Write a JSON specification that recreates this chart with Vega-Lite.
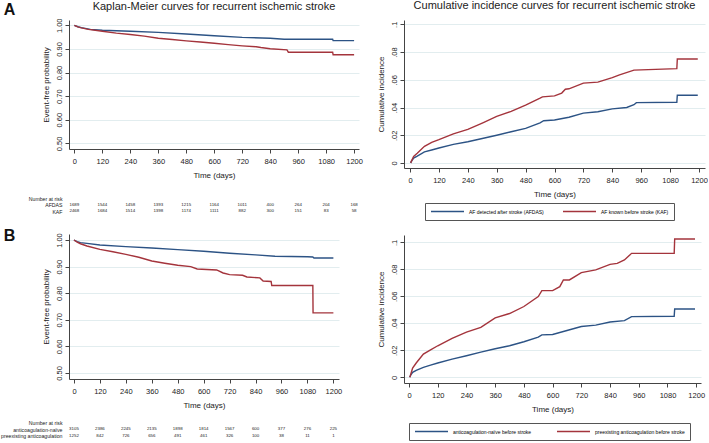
{
  "$schema": "https://vega.github.io/schema/vega-lite/v6.json",
  "padding": 0,
  "background": "white",
  "config": {
    "font": "Liberation Sans",
    "view": {"stroke": null},
    "title": {"fontSize": 11, "fontWeight": "normal", "color": "#222", "frame": "group"},
    "axis": {"domainColor": "#444", "tickColor": "#444", "labelFontSize": 7.5, "labelColor": "#222", "titleFontSize": 8, "titleFontWeight": "normal", "titleColor": "#222", "tickSize": 4, "gridColor": "#e2edef", "labelPadding": 2, "labelOverlap": false, "labelFlush": false, "tickCount": 30},
    "axisX": {"grid": false, "labelPadding": 4, "titlePadding": 7, "format": "d"},
    "axisY": {"grid": true, "labelAngle": -90, "labelAlign": "center", "labelBaseline": "bottom", "titlePadding": 5, "labelOverlap": false}
  },
  "datasets": {
    "km_a": [
      {"t": 0, "v": 1.0, "g": "AFDAS"}, {"t": 15, "v": 0.994, "g": "AFDAS"}, {"t": 30, "v": 0.99, "g": "AFDAS"}, {"t": 69, "v": 0.983, "g": "AFDAS"}, {"t": 120, "v": 0.979, "g": "AFDAS"}, {"t": 240, "v": 0.975, "g": "AFDAS"}, {"t": 360, "v": 0.97, "g": "AFDAS"}, {"t": 480, "v": 0.963, "g": "AFDAS"}, {"t": 600, "v": 0.956, "g": "AFDAS"}, {"t": 720, "v": 0.949, "g": "AFDAS"}, {"t": 840, "v": 0.945, "g": "AFDAS"}, {"t": 900, "v": 0.941, "g": "AFDAS"}, {"t": 1108, "v": 0.941, "g": "AFDAS"}, {"t": 1110, "v": 0.935, "g": "AFDAS"}, {"t": 1200, "v": 0.935, "g": "AFDAS"},
      {"t": 0, "v": 1.0, "g": "KAF"}, {"t": 15, "v": 0.993, "g": "KAF"}, {"t": 30, "v": 0.989, "g": "KAF"}, {"t": 60, "v": 0.983, "g": "KAF"}, {"t": 120, "v": 0.975, "g": "KAF"}, {"t": 180, "v": 0.967, "g": "KAF"}, {"t": 240, "v": 0.961, "g": "KAF"}, {"t": 300, "v": 0.954, "g": "KAF"}, {"t": 360, "v": 0.945, "g": "KAF"}, {"t": 420, "v": 0.94, "g": "KAF"}, {"t": 480, "v": 0.934, "g": "KAF"}, {"t": 540, "v": 0.929, "g": "KAF"}, {"t": 600, "v": 0.924, "g": "KAF"}, {"t": 660, "v": 0.918, "g": "KAF"}, {"t": 720, "v": 0.913, "g": "KAF"}, {"t": 780, "v": 0.909, "g": "KAF"}, {"t": 800, "v": 0.906, "g": "KAF"}, {"t": 840, "v": 0.901, "g": "KAF"}, {"t": 912, "v": 0.896, "g": "KAF"}, {"t": 918, "v": 0.886, "g": "KAF"}, {"t": 1108, "v": 0.886, "g": "KAF"}, {"t": 1110, "v": 0.875, "g": "KAF"}, {"t": 1200, "v": 0.875, "g": "KAF"}
    ],
    "km_b": [
      {"t": 0, "v": 1.0, "g": "naive"}, {"t": 15, "v": 0.994, "g": "naive"}, {"t": 30, "v": 0.99, "g": "naive"}, {"t": 60, "v": 0.9875, "g": "naive"}, {"t": 120, "v": 0.981, "g": "naive"}, {"t": 240, "v": 0.975, "g": "naive"}, {"t": 360, "v": 0.97, "g": "naive"}, {"t": 480, "v": 0.964, "g": "naive"}, {"t": 600, "v": 0.9575, "g": "naive"}, {"t": 720, "v": 0.95, "g": "naive"}, {"t": 840, "v": 0.944, "g": "naive"}, {"t": 930, "v": 0.939, "g": "naive"}, {"t": 1080, "v": 0.937, "g": "naive"}, {"t": 1105, "v": 0.936, "g": "naive"}, {"t": 1110, "v": 0.9325, "g": "naive"}, {"t": 1200, "v": 0.9325, "g": "naive"},
      {"t": 0, "v": 1.0, "g": "pre"}, {"t": 15, "v": 0.992, "g": "pre"}, {"t": 30, "v": 0.986, "g": "pre"}, {"t": 60, "v": 0.9775, "g": "pre"}, {"t": 120, "v": 0.965, "g": "pre"}, {"t": 180, "v": 0.956, "g": "pre"}, {"t": 240, "v": 0.946, "g": "pre"}, {"t": 300, "v": 0.935, "g": "pre"}, {"t": 360, "v": 0.921, "g": "pre"}, {"t": 420, "v": 0.9125, "g": "pre"}, {"t": 480, "v": 0.905, "g": "pre"}, {"t": 540, "v": 0.9, "g": "pre"}, {"t": 570, "v": 0.891, "g": "pre"}, {"t": 660, "v": 0.8875, "g": "pre"}, {"t": 690, "v": 0.876, "g": "pre"}, {"t": 720, "v": 0.87, "g": "pre"}, {"t": 780, "v": 0.8675, "g": "pre"}, {"t": 800, "v": 0.861, "g": "pre"}, {"t": 860, "v": 0.8575, "g": "pre"}, {"t": 875, "v": 0.846, "g": "pre"}, {"t": 912, "v": 0.844, "g": "pre"}, {"t": 915, "v": 0.829, "g": "pre"}, {"t": 1105, "v": 0.829, "g": "pre"}, {"t": 1106, "v": 0.726, "g": "pre"}, {"t": 1200, "v": 0.726, "g": "pre"}
    ],
    "ci_a": [
      {"t": 3, "v": 0.0, "g": "AF detected after stroke (AFDAS)"}, {"t": 5, "v": 0.001, "g": "AF detected after stroke (AFDAS)"}, {"t": 15, "v": 0.0036, "g": "AF detected after stroke (AFDAS)"}, {"t": 30, "v": 0.005, "g": "AF detected after stroke (AFDAS)"}, {"t": 60, "v": 0.008, "g": "AF detected after stroke (AFDAS)"}, {"t": 90, "v": 0.0094, "g": "AF detected after stroke (AFDAS)"}, {"t": 120, "v": 0.0108, "g": "AF detected after stroke (AFDAS)"}, {"t": 180, "v": 0.0134, "g": "AF detected after stroke (AFDAS)"}, {"t": 240, "v": 0.0153, "g": "AF detected after stroke (AFDAS)"}, {"t": 300, "v": 0.0177, "g": "AF detected after stroke (AFDAS)"}, {"t": 360, "v": 0.02, "g": "AF detected after stroke (AFDAS)"}, {"t": 420, "v": 0.0225, "g": "AF detected after stroke (AFDAS)"}, {"t": 480, "v": 0.025, "g": "AF detected after stroke (AFDAS)"}, {"t": 540, "v": 0.029, "g": "AF detected after stroke (AFDAS)"}, {"t": 555, "v": 0.0305, "g": "AF detected after stroke (AFDAS)"}, {"t": 600, "v": 0.031, "g": "AF detected after stroke (AFDAS)"}, {"t": 660, "v": 0.033, "g": "AF detected after stroke (AFDAS)"}, {"t": 720, "v": 0.036, "g": "AF detected after stroke (AFDAS)"}, {"t": 780, "v": 0.037, "g": "AF detected after stroke (AFDAS)"}, {"t": 840, "v": 0.039, "g": "AF detected after stroke (AFDAS)"}, {"t": 900, "v": 0.04, "g": "AF detected after stroke (AFDAS)"}, {"t": 930, "v": 0.042, "g": "AF detected after stroke (AFDAS)"}, {"t": 940, "v": 0.0435, "g": "AF detected after stroke (AFDAS)"}, {"t": 1108, "v": 0.0438, "g": "AF detected after stroke (AFDAS)"}, {"t": 1110, "v": 0.0488, "g": "AF detected after stroke (AFDAS)"}, {"t": 1195, "v": 0.0488, "g": "AF detected after stroke (AFDAS)"},
      {"t": 3, "v": 0.0, "g": "AF known before stroke (KAF)"}, {"t": 5, "v": 0.001, "g": "AF known before stroke (KAF)"}, {"t": 15, "v": 0.0048, "g": "AF known before stroke (KAF)"}, {"t": 30, "v": 0.007, "g": "AF known before stroke (KAF)"}, {"t": 60, "v": 0.012, "g": "AF known before stroke (KAF)"}, {"t": 90, "v": 0.0149, "g": "AF known before stroke (KAF)"}, {"t": 120, "v": 0.0168, "g": "AF known before stroke (KAF)"}, {"t": 180, "v": 0.021, "g": "AF known before stroke (KAF)"}, {"t": 240, "v": 0.0242, "g": "AF known before stroke (KAF)"}, {"t": 300, "v": 0.0288, "g": "AF known before stroke (KAF)"}, {"t": 360, "v": 0.0336, "g": "AF known before stroke (KAF)"}, {"t": 420, "v": 0.0372, "g": "AF known before stroke (KAF)"}, {"t": 480, "v": 0.0417, "g": "AF known before stroke (KAF)"}, {"t": 540, "v": 0.0468, "g": "AF known before stroke (KAF)"}, {"t": 550, "v": 0.0477, "g": "AF known before stroke (KAF)"}, {"t": 600, "v": 0.0484, "g": "AF known before stroke (KAF)"}, {"t": 630, "v": 0.0504, "g": "AF known before stroke (KAF)"}, {"t": 645, "v": 0.0532, "g": "AF known before stroke (KAF)"}, {"t": 660, "v": 0.0535, "g": "AF known before stroke (KAF)"}, {"t": 720, "v": 0.0576, "g": "AF known before stroke (KAF)"}, {"t": 780, "v": 0.0583, "g": "AF known before stroke (KAF)"}, {"t": 840, "v": 0.0616, "g": "AF known before stroke (KAF)"}, {"t": 870, "v": 0.0636, "g": "AF known before stroke (KAF)"}, {"t": 930, "v": 0.067, "g": "AF known before stroke (KAF)"}, {"t": 1108, "v": 0.068, "g": "AF known before stroke (KAF)"}, {"t": 1110, "v": 0.075, "g": "AF known before stroke (KAF)"}, {"t": 1195, "v": 0.075, "g": "AF known before stroke (KAF)"}
    ],
    "ci_b": [
      {"t": 3, "v": 0.0, "g": "anticoagulation-naïve before stroke"}, {"t": 5, "v": 0.001, "g": "anticoagulation-naïve before stroke"}, {"t": 15, "v": 0.0037, "g": "anticoagulation-naïve before stroke"}, {"t": 30, "v": 0.0052, "g": "anticoagulation-naïve before stroke"}, {"t": 60, "v": 0.0074, "g": "anticoagulation-naïve before stroke"}, {"t": 90, "v": 0.009, "g": "anticoagulation-naïve before stroke"}, {"t": 120, "v": 0.0106, "g": "anticoagulation-naïve before stroke"}, {"t": 180, "v": 0.0135, "g": "anticoagulation-naïve before stroke"}, {"t": 240, "v": 0.016, "g": "anticoagulation-naïve before stroke"}, {"t": 300, "v": 0.0187, "g": "anticoagulation-naïve before stroke"}, {"t": 360, "v": 0.0212, "g": "anticoagulation-naïve before stroke"}, {"t": 420, "v": 0.0234, "g": "anticoagulation-naïve before stroke"}, {"t": 480, "v": 0.0264, "g": "anticoagulation-naïve before stroke"}, {"t": 540, "v": 0.0298, "g": "anticoagulation-naïve before stroke"}, {"t": 555, "v": 0.0315, "g": "anticoagulation-naïve before stroke"}, {"t": 600, "v": 0.0318, "g": "anticoagulation-naïve before stroke"}, {"t": 660, "v": 0.0347, "g": "anticoagulation-naïve before stroke"}, {"t": 720, "v": 0.0377, "g": "anticoagulation-naïve before stroke"}, {"t": 780, "v": 0.0387, "g": "anticoagulation-naïve before stroke"}, {"t": 840, "v": 0.041, "g": "anticoagulation-naïve before stroke"}, {"t": 900, "v": 0.042, "g": "anticoagulation-naïve before stroke"}, {"t": 930, "v": 0.045, "g": "anticoagulation-naïve before stroke"}, {"t": 1108, "v": 0.0453, "g": "anticoagulation-naïve before stroke"}, {"t": 1110, "v": 0.0507, "g": "anticoagulation-naïve before stroke"}, {"t": 1195, "v": 0.0507, "g": "anticoagulation-naïve before stroke"},
      {"t": 3, "v": 0.0, "g": "preexisting anticoagulation before stroke"}, {"t": 5, "v": 0.001, "g": "preexisting anticoagulation before stroke"}, {"t": 15, "v": 0.0069, "g": "preexisting anticoagulation before stroke"}, {"t": 30, "v": 0.0106, "g": "preexisting anticoagulation before stroke"}, {"t": 60, "v": 0.0172, "g": "preexisting anticoagulation before stroke"}, {"t": 90, "v": 0.0204, "g": "preexisting anticoagulation before stroke"}, {"t": 120, "v": 0.0234, "g": "preexisting anticoagulation before stroke"}, {"t": 180, "v": 0.0288, "g": "preexisting anticoagulation before stroke"}, {"t": 240, "v": 0.0335, "g": "preexisting anticoagulation before stroke"}, {"t": 300, "v": 0.037, "g": "preexisting anticoagulation before stroke"}, {"t": 360, "v": 0.0441, "g": "preexisting anticoagulation before stroke"}, {"t": 420, "v": 0.0473, "g": "preexisting anticoagulation before stroke"}, {"t": 480, "v": 0.0525, "g": "preexisting anticoagulation before stroke"}, {"t": 540, "v": 0.0599, "g": "preexisting anticoagulation before stroke"}, {"t": 555, "v": 0.0643, "g": "preexisting anticoagulation before stroke"}, {"t": 600, "v": 0.0643, "g": "preexisting anticoagulation before stroke"}, {"t": 630, "v": 0.0672, "g": "preexisting anticoagulation before stroke"}, {"t": 645, "v": 0.0722, "g": "preexisting anticoagulation before stroke"}, {"t": 670, "v": 0.0722, "g": "preexisting anticoagulation before stroke"}, {"t": 720, "v": 0.0776, "g": "preexisting anticoagulation before stroke"}, {"t": 780, "v": 0.0796, "g": "preexisting anticoagulation before stroke"}, {"t": 840, "v": 0.0837, "g": "preexisting anticoagulation before stroke"}, {"t": 870, "v": 0.0845, "g": "preexisting anticoagulation before stroke"}, {"t": 900, "v": 0.087, "g": "preexisting anticoagulation before stroke"}, {"t": 930, "v": 0.0919, "g": "preexisting anticoagulation before stroke"}, {"t": 1108, "v": 0.0919, "g": "preexisting anticoagulation before stroke"}, {"t": 1110, "v": 0.1025, "g": "preexisting anticoagulation before stroke"}, {"t": 1195, "v": 0.1025, "g": "preexisting anticoagulation before stroke"}
    ],
    "risk_a": [
      {"t": 0, "g": "AFDAS", "n": "1689"}, {"t": 120, "g": "AFDAS", "n": "1544"}, {"t": 240, "g": "AFDAS", "n": "1458"}, {"t": 360, "g": "AFDAS", "n": "1393"}, {"t": 480, "g": "AFDAS", "n": "1215"}, {"t": 600, "g": "AFDAS", "n": "1164"}, {"t": 720, "g": "AFDAS", "n": "1011"}, {"t": 840, "g": "AFDAS", "n": "400"}, {"t": 960, "g": "AFDAS", "n": "264"}, {"t": 1080, "g": "AFDAS", "n": "204"}, {"t": 1200, "g": "AFDAS", "n": "168"},
      {"t": 0, "g": "KAF", "n": "2468"}, {"t": 120, "g": "KAF", "n": "1684"}, {"t": 240, "g": "KAF", "n": "1514"}, {"t": 360, "g": "KAF", "n": "1398"}, {"t": 480, "g": "KAF", "n": "1174"}, {"t": 600, "g": "KAF", "n": "1111"}, {"t": 720, "g": "KAF", "n": "882"}, {"t": 840, "g": "KAF", "n": "300"}, {"t": 960, "g": "KAF", "n": "151"}, {"t": 1080, "g": "KAF", "n": "83"}, {"t": 1200, "g": "KAF", "n": "58"}
    ],
    "risk_b": [
      {"t": 0, "g": "anticoagulation-naïve", "n": "3105"}, {"t": 120, "g": "anticoagulation-naïve", "n": "2386"}, {"t": 240, "g": "anticoagulation-naïve", "n": "2245"}, {"t": 360, "g": "anticoagulation-naïve", "n": "2135"}, {"t": 480, "g": "anticoagulation-naïve", "n": "1898"}, {"t": 600, "g": "anticoagulation-naïve", "n": "1814"}, {"t": 720, "g": "anticoagulation-naïve", "n": "1567"}, {"t": 840, "g": "anticoagulation-naïve", "n": "600"}, {"t": 960, "g": "anticoagulation-naïve", "n": "377"}, {"t": 1080, "g": "anticoagulation-naïve", "n": "276"}, {"t": 1200, "g": "anticoagulation-naïve", "n": "225"},
      {"t": 0, "g": "preexisting anticoagulation", "n": "1252"}, {"t": 120, "g": "preexisting anticoagulation", "n": "842"}, {"t": 240, "g": "preexisting anticoagulation", "n": "726"}, {"t": 360, "g": "preexisting anticoagulation", "n": "656"}, {"t": 480, "g": "preexisting anticoagulation", "n": "491"}, {"t": 600, "g": "preexisting anticoagulation", "n": "461"}, {"t": 720, "g": "preexisting anticoagulation", "n": "326"}, {"t": 840, "g": "preexisting anticoagulation", "n": "100"}, {"t": 960, "g": "preexisting anticoagulation", "n": "38"}, {"t": 1080, "g": "preexisting anticoagulation", "n": "11"}, {"t": 1200, "g": "preexisting anticoagulation", "n": "1"}
    ]
  },
  "resolve": {"scale": {"x": "independent", "y": "independent", "color": "independent"}},
  "spacing": 13,
  "hconcat": [
    {
      "spacing": 10,
      "resolve": {"scale": {"x": "independent", "y": "independent", "color": "independent"}},
      "vconcat": [
        {
          "width": 290, "height": 129,
          "title": {"text": "Kaplan-Meier curves for recurrent ischemic stroke", "offset": -10},
          "layer": [
            {
              "data": {"name": "km_a"},
              "mark": {"type": "line", "strokeWidth": 1.4},
              "encoding": {
                "x": {"field": "t", "type": "quantitative", "scale": {"domain": [-23, 1221], "nice": false, "zero": false}, "axis": {"values": [0, 120, 240, 360, 480, 600, 720, 840, 960, 1080, 1200], "title": "Time (days)", "tickCount": 30}},
                "y": {"field": "v", "type": "quantitative", "scale": {"domain": [0.476, 1.0225], "nice": false, "zero": false}, "axis": {"values": [0.5, 0.6, 0.7, 0.8, 0.9, 1.0], "format": ".2f", "title": "Event-free probability", "tickCount": 30, "labelOverlap": false}},
                "color": {"field": "g", "type": "nominal", "scale": {"domain": ["AFDAS", "KAF"], "range": ["#2c5385", "#a4343c"]}, "legend": null}
              }
            },
            {
              "data": {"values": [{"lab": "A"}]},
              "mark": {"type": "text", "fontSize": 16, "fontWeight": "bold", "color": "#111"},
              "encoding": {"x": {"datum": -278, "type": "quantitative"}, "y": {"datum": 1.066, "type": "quantitative"}, "text": {"field": "lab"}}
            }
          ]
        },
        {
          "width": 290, "height": 27,
          "data": {"name": "risk_a"},
          "mark": {"type": "text", "fontSize": 4.4, "color": "#222"},
          "encoding": {
            "x": {"field": "t", "type": "quantitative", "scale": {"domain": [-23, 1221], "nice": false, "zero": false}, "axis": null},
            "y": {"field": "g", "type": "nominal", "scale": {"domain": ["Number at risk", "AFDAS", "KAF"], "range": [8, 21], "padding": 0}, "axis": {"title": null, "domain": false, "ticks": false, "grid": false, "labelAngle": 0, "labelAlign": "right", "labelBaseline": "middle", "labelFontSize": 5.2, "labelPadding": 7}},
            "text": {"field": "n"}
          }
        },
        {
          "width": 270, "height": 145,
          "layer": [
            {
              "data": {"name": "km_b"},
              "mark": {"type": "line", "strokeWidth": 1.4},
              "encoding": {
                "x": {"field": "t", "type": "quantitative", "scale": {"domain": [-23, 1226], "nice": false, "zero": false}, "axis": {"values": [0, 120, 240, 360, 480, 600, 720, 840, 960, 1080, 1200], "title": "Time (days)", "tickCount": 30}},
                "y": {"field": "v", "type": "quantitative", "scale": {"domain": [0.4774, 1.0226], "nice": false, "zero": false}, "axis": {"values": [0.5, 0.6, 0.7, 0.8, 0.9, 1.0], "format": ".2f", "title": "Event-free probability", "tickCount": 30, "labelOverlap": false}},
                "color": {"field": "g", "type": "nominal", "scale": {"domain": ["naive", "pre"], "range": ["#2c5385", "#a4343c"]}, "legend": null}
              }
            },
            {
              "data": {"values": [{"lab": "B"}]},
              "mark": {"type": "text", "fontSize": 16, "fontWeight": "bold", "color": "#111"},
              "encoding": {"x": {"datum": -298, "type": "quantitative"}, "y": {"datum": 1.016, "type": "quantitative"}, "text": {"field": "lab"}}
            }
          ]
        },
        {
          "width": 270, "height": 18,
          "data": {"name": "risk_b"},
          "mark": {"type": "text", "fontSize": 4.4, "color": "#222"},
          "encoding": {
            "x": {"field": "t", "type": "quantitative", "scale": {"domain": [-23, 1226], "nice": false, "zero": false}, "axis": null},
            "y": {"field": "g", "type": "nominal", "scale": {"domain": ["Number at risk", "anticoagulation-naïve", "preexisting anticoagulation"], "range": [2.5, 15.5], "padding": 0}, "axis": {"title": null, "domain": false, "ticks": false, "grid": false, "labelAngle": 0, "labelAlign": "right", "labelBaseline": "middle", "labelFontSize": 5.2, "labelPadding": 7}},
            "text": {"field": "n"}
          }
        }
      ]
    },
    {
      "spacing": 14,
      "resolve": {"scale": {"x": "independent", "y": "independent", "color": "independent"}},
      "vconcat": [
        {
          "width": 301, "height": 148,
          "title": {"text": "Cumulative incidence curves for recurrent ischemic stroke", "offset": 9},
          "data": {"name": "ci_a"},
          "mark": {"type": "line", "strokeWidth": 1.4},
          "encoding": {
            "x": {"field": "t", "type": "quantitative", "scale": {"domain": [-25, 1225], "nice": false, "zero": false}, "axis": {"values": [0, 120, 240, 360, 480, 600, 720, 840, 960, 1080, 1200], "title": "Time (days)", "tickCount": 30}},
            "y": {"field": "v", "type": "quantitative", "scale": {"domain": [-0.0036, 0.1031], "nice": false, "zero": false}, "axis": {"values": [0, 0.02, 0.04, 0.06, 0.08, 0.1], "tickCount": 30, "labelExpr": "datum.value == 0 ? '0' : replace(format(datum.value, '.2~f'), '0.', '.')", "title": "Cumulative incidence"}},
            "color": {"field": "g", "type": "nominal", "scale": {"domain": ["AF detected after stroke (AFDAS)", "AF known before stroke (KAF)"], "range": ["#2c5385", "#a4343c"]}, "legend": {"orient": "none", "legendX": 21, "legendY": 183, "direction": "horizontal", "columns": 2, "title": null, "symbolType": "stroke", "symbolSize": 1089, "symbolStrokeWidth": 1.5, "clipHeight": 7, "labelFontSize": 5, "labelOffset": 4, "columnPadding": 18, "padding": 5, "strokeColor": "#555", "fillColor": "white"}}
          }
        },
        {
          "width": 297, "height": 148,
          "data": {"name": "ci_b"},
          "mark": {"type": "line", "strokeWidth": 1.4},
          "encoding": {
            "x": {"field": "t", "type": "quantitative", "scale": {"domain": [-21, 1220], "nice": false, "zero": false}, "axis": {"values": [0, 120, 240, 360, 480, 600, 720, 840, 960, 1080, 1200], "title": "Time (days)", "tickCount": 30}},
            "y": {"field": "v", "type": "quantitative", "scale": {"domain": [-0.0042, 0.1055], "nice": false, "zero": false}, "axis": {"values": [0, 0.02, 0.04, 0.06, 0.08, 0.1], "tickCount": 30, "labelExpr": "datum.value == 0 ? '0' : replace(format(datum.value, '.2~f'), '0.', '.')", "title": "Cumulative incidence"}},
            "color": {"field": "g", "type": "nominal", "scale": {"domain": ["anticoagulation-naïve before stroke", "preexisting anticoagulation before stroke"], "range": ["#2c5385", "#a4343c"]}, "legend": {"orient": "none", "legendX": 5, "legendY": 188, "direction": "horizontal", "columns": 2, "title": null, "symbolType": "stroke", "symbolSize": 1089, "symbolStrokeWidth": 1.5, "clipHeight": 7, "labelFontSize": 5, "labelOffset": 4, "columnPadding": 24, "padding": 5, "strokeColor": "#555", "fillColor": "white"}}
          }
        }
      ]
    }
  ]
}
